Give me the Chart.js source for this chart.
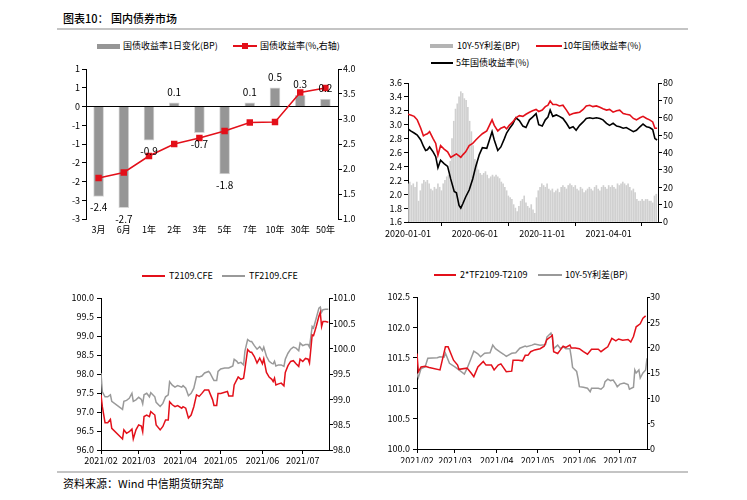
<!DOCTYPE html>
<html><head><meta charset="utf-8">
<script src="https://cdn.jsdelivr.net/npm/chart.js@4.4.0/dist/chart.umd.min.js"></script>
<style>
html,body{margin:0;padding:0;background:#fff;}
body{width:747px;height:500px;position:relative;overflow:hidden;font-family:'Noto Sans CJK SC',sans-serif;}
canvas{position:absolute;}
.t{position:absolute;white-space:nowrap;font-size:9px;line-height:12px;height:12px;color:#000;}
.sw{position:absolute;}
</style></head><body>
<div class="t" style="left:63px;top:10px;font-size:11px;line-height:16px;height:16px;font-weight:500;">图表10： 国内债券市场</div>
<div class="sw" style="left:57px;top:28px;width:631px;height:2px;background:#c4c4c4"></div>

<div class="sw" style="left:97px;top:44px;width:23px;height:5px;background:#969696"></div>
<div class="t" style="left:123px;top:40px;">国债收益率1日变化(BP)</div>
<div class="sw" style="left:233px;top:45px;width:24px;height:2px;background:#e3101a"></div>
<div class="sw" style="left:242px;top:43px;width:6px;height:6px;background:#e3101a"></div>
<div class="t" style="left:260px;top:40px;">国债收益率(%,右轴)</div>

<div class="sw" style="left:430px;top:44px;width:23px;height:4px;background:#b4b4b4"></div>
<div class="t" style="left:457px;top:40px;">10Y-5Y利差(BP)</div>
<div class="sw" style="left:536px;top:45px;width:26px;height:2px;background:#e3101a"></div>
<div class="t" style="left:563px;top:40px;">10年国债收益率(%)</div>
<div class="sw" style="left:431px;top:62px;width:22px;height:2px;background:#000"></div>
<div class="t" style="left:456px;top:57px;">5年国债收益率(%)</div>

<div class="sw" style="left:142px;top:275px;width:23px;height:2px;background:#e3101a"></div>
<div class="t" style="left:169px;top:270px;">T2109.CFE</div>
<div class="sw" style="left:222px;top:275px;width:23px;height:2px;background:#999"></div>
<div class="t" style="left:249px;top:270px;">TF2109.CFE</div>

<div class="sw" style="left:434px;top:274px;width:22px;height:2px;background:#e3101a"></div>
<div class="t" style="left:460px;top:269px;">2*TF2109-T2109</div>
<div class="sw" style="left:538px;top:274px;width:24px;height:2px;background:#999"></div>
<div class="t" style="left:565px;top:269px;">10Y-5Y利差(BP)</div>

<div class="sw" style="left:57px;top:471px;width:631px;height:2px;background:#c4c4c4"></div>
<div class="t" style="left:63px;top:476px;font-size:11px;line-height:14px;height:14px;">资料来源：Wind 中信期货研究部</div>

<canvas id="c1" width="380" height="190" style="left:0px;top:55px"></canvas>
<canvas id="c2" width="372" height="170" style="left:375px;top:75px"></canvas>
<canvas id="c3" width="335" height="185" style="left:40px;top:285px"></canvas>
<canvas id="c4" width="372" height="185" style="left:375px;top:285px"></canvas>
<script>
// ---------- Chart 1 data ----------
const tenors = ['3月','6月','1年','2年','3年','5年','7年','10年','30年','50年'];
const bpChange = [-2.4,-2.7,-0.9,0.1,-0.7,-1.8,0.1,0.5,0.3,0.2];
const yieldRate = [1.82,1.93,2.26,2.50,2.62,2.76,2.93,2.94,3.53,3.62];

// ---------- Chart 2 data (days since 2020-01-01) ----------
const cgbTicks = [0,152,305,456];
const cgbTickLabels = ['2020-01-01','2020-06-01','2020-11-01','2021-04-01'];
const cgbDays = [0,6,14,21,29,35,40,44,49,57,63,68,74,82,90,97,105,110,116,120,125,131,139,147,154,162,169,179,185,191,196,204,211,219,224,230,238,245,253,261,268,276,283,291,297,305,312,318,323,329,337,344,352,360,367,375,382,390,398,405,413,420,428,436,443,451,458,466,474,481,489,496,504,512,519,527,534,542,549,556,561,566];
const cgb10y = [3.15,3.14,3.12,3.07,2.95,2.84,2.86,2.87,2.90,2.80,2.73,2.56,2.70,2.65,2.61,2.53,2.56,2.58,2.55,2.53,2.57,2.61,2.70,2.73,2.78,2.83,2.87,2.91,2.99,3.07,2.99,2.91,2.95,2.97,2.94,2.99,3.04,3.10,3.13,3.12,3.15,3.18,3.20,3.22,3.19,3.21,3.26,3.28,3.34,3.29,3.29,3.27,3.28,3.21,3.14,3.16,3.17,3.18,3.22,3.27,3.28,3.26,3.27,3.25,3.23,3.21,3.22,3.18,3.20,3.21,3.16,3.15,3.14,3.09,3.07,3.10,3.12,3.09,3.07,3.04,2.95,2.95];
const cgb5y = [2.94,2.91,2.88,2.85,2.78,2.69,2.63,2.64,2.68,2.61,2.54,2.38,2.49,2.44,2.40,2.22,2.04,2.02,1.84,1.80,1.87,1.96,2.06,2.22,2.40,2.57,2.67,2.66,2.78,2.90,2.78,2.63,2.68,2.80,2.88,2.94,3.01,3.10,3.06,2.98,2.96,3.07,3.11,3.16,3.00,2.98,3.07,3.11,3.21,3.12,3.14,3.12,3.09,3.02,2.95,2.97,2.92,2.99,3.04,3.09,3.10,3.09,3.10,3.09,3.07,3.02,2.99,3.02,2.98,2.97,2.95,2.96,2.93,2.90,2.92,2.97,3.01,2.97,2.96,2.93,2.80,2.78];
const spreadDays = [0,4,8,12,16,20,24,28,32,36,40,44,48,52,56,60,64,68,72,76,80,84,88,92,96,100,104,108,112,116,120,124,128,132,136,140,144,148,152,156,160,164,168,172,176,180,184,188,192,196,200,204,208,212,216,220,224,228,232,236,240,244,248,252,256,260,264,268,272,276,280,284,288,292,296,300,304,308,312,316,320,324,328,332,336,340,344,348,352,356,360,364,368,372,376,380,384,388,392,396,400,404,408,412,416,420,424,428,432,436,440,444,448,452,456,460,464,468,472,476,480,484,488,492,496,500,504,508,512,516,520,524,528,532,536,540,544,548,552,556,560,564];
const spreadBp = [22,23,21,22,20,23,12,18,22,24,23,24,22,19,18,20,19,22,20,18,22,24,26,27,35,48,58,65,68,72,75,74,71,70,66,58,52,44,36,34,30,28,27,28,29,27,25,26,27,26,27,26,25,23,22,20,18,15,14,13,10,8,6,9,12,13,15,11,9,8,10,7,5,14,18,20,22,21,20,22,19,18,19,17,18,19,17,20,21,20,19,21,22,21,20,21,19,18,20,19,17,18,19,20,19,18,20,21,19,18,20,21,20,19,21,20,21,20,19,22,21,22,23,22,21,22,20,18,19,17,13,12,12,13,12,13,13,12,12,11,15,16];

// ---------- Chart 3 data (days since 2021-02-01) ----------
const monthTicks = [0,28,59,89,120,150];
const monthLabels = ['2021/02','2021/03','2021/04','2021/05','2021/06','2021/07'];
const futDays = [0,1,3,5,7,8,16,17,19,21,23,24,26,28,30,31,32,34,36,37,40,41,44,46,48,50,51,53,55,57,60,61,63,65,67,69,71,73,75,77,80,81,83,84,86,87,89,92,94,95,98,99,101,102,104,106,107,109,111,112,114,116,118,120,121,123,125,127,128,129,130,132,134,136,137,139,141,143,145,147,148,150,152,154,155,157,158,160,162,163,164,165,167,169];
const t2109 = [97.45,97.14,96.72,96.72,96.81,96.57,96.29,96.53,96.44,96.48,96.55,96.29,96.53,96.66,96.63,96.48,96.88,96.92,96.88,97.01,96.92,96.66,96.53,96.62,96.79,96.79,97.27,97.19,97.14,97.17,97.10,97.14,97.10,96.84,96.92,97.14,97.45,97.41,97.49,97.58,97.58,97.49,97.32,97.17,97.17,97.49,97.49,97.52,97.54,97.42,97.42,97.71,97.85,97.92,97.86,97.89,98.13,98.64,98.57,98.57,98.46,98.29,98.42,98.27,98.40,98.04,97.92,97.86,97.80,97.89,97.71,97.74,97.76,97.69,98.04,98.22,98.33,98.35,98.27,98.20,98.39,98.33,98.41,98.39,98.29,99.03,99.01,99.25,99.52,99.62,99.25,99.38,99.38,99.36];
const tf2109 = [99.52,99.15,99.05,99.05,99.09,98.96,98.80,98.96,98.98,99.02,99.12,98.96,98.99,99.04,99.00,98.91,99.09,99.12,99.05,99.13,99.05,98.94,98.86,98.92,99.05,99.09,99.35,99.28,99.24,99.27,99.24,99.27,99.22,99.07,99.12,99.22,99.45,99.44,99.46,99.52,99.55,99.52,99.42,99.37,99.37,99.55,99.60,99.62,99.62,99.62,99.66,99.79,99.75,99.71,99.73,99.68,99.95,100.18,100.14,100.14,100.06,99.99,100.04,99.96,100.03,99.85,99.75,99.71,99.70,99.75,99.66,99.68,99.68,99.65,99.79,99.91,99.99,100.03,100.01,99.96,100.11,100.06,100.08,100.08,100.03,100.44,100.41,100.60,100.80,100.82,100.72,100.77,100.78,100.78];

// ---------- Chart 4 data ----------
const basisDays = [0,1,3,6,9,17,21,23,27,30,31,37,40,42,45,49,51,55,57,60,62,66,70,71,75,78,80,82,84,87,91,94,96,99,100,101,104,106,108,110,113,114,117,120,123,126,129,134,136,139,141,144,147,149,152,156,158,160,162,165,167,169];
const basisVal = [101.57,101.27,101.35,101.36,101.34,101.30,101.68,101.68,101.46,101.38,101.31,101.33,101.25,101.19,101.35,101.44,101.38,101.38,101.30,101.38,101.40,101.27,101.28,101.46,101.46,101.45,101.54,101.54,101.60,101.63,101.65,101.69,101.80,101.85,101.87,101.60,101.57,101.63,101.69,101.67,101.71,101.66,101.66,101.65,101.60,101.56,101.64,101.64,101.60,101.65,101.68,101.82,101.78,101.81,101.79,101.80,101.76,101.85,102.01,102.06,102.15,102.19];
const sprDays = [0,1,3,6,8,15,17,20,21,24,28,31,35,37,40,42,45,47,50,54,56,58,61,64,66,70,73,76,80,81,85,87,91,95,96,99,100,101,104,106,108,110,113,114,115,118,119,120,123,126,128,129,134,136,138,139,141,143,145,147,148,150,153,156,157,160,161,162,164,165,167,169,170];
const sprVal = [14.9,14.1,15.9,16.2,17.9,18.0,18.2,18.1,18.9,16.9,16.2,15.6,14.8,15.9,17.9,19.3,18.8,18.2,18.9,19.0,20.5,19.8,19.2,18.7,18.3,18.9,19.0,19.9,20.3,20.2,20.5,20.7,20.5,20.6,22.1,22.9,22.2,19.8,20.5,19.8,20.2,19.8,19.8,18.2,16.1,15.3,14.0,12.3,12.2,12.0,11.3,12.0,12.0,11.8,12.3,13.3,13.8,13.5,13.6,12.8,12.3,12.8,13.0,12.7,11.8,12.2,15.6,15.0,15.6,14.0,15.0,15.6,17.9];

// ---------- helpers ----------
const RED = '#e3101a';
const FONT = "'Noto Sans CJK SC', sans-serif";
Chart.defaults.font.family = FONT;
Chart.defaults.font.size = 9;
Chart.defaults.color = '#000';
Chart.defaults.animation = false;
Chart.defaults.plugins.legend.display = false;
Chart.defaults.plugins.tooltip.enabled = false;

const pts = (xs, ys) => xs.map((x, i) => ({x: x, y: ys[i]}));
const fx = d => v => v.toFixed(d);

function yAxis(pos, min, max, step, fmt, width, pad, tl) {
  return {
    type: 'linear', position: pos, min: min, max: max,
    ticks: {stepSize: step, callback: fmt, padding: pad, autoSkip: false},
    grid: {drawOnChartArea: false, drawTicks: true, tickLength: tl, tickColor: '#000'},
    border: {display: true, color: '#000', width: 1},
    afterFit(s) { s.width = width; }
  };
}
function xAxis(min, max, ticks, labels, height, pad) {
  return {
    type: 'linear', min: min, max: max, offset: false,
    afterBuildTicks(s) { s.ticks = ticks.map(v => ({value: v})); },
    ticks: {callback: (v, i) => labels[i], padding: pad, maxRotation: 0, autoSkip: false},
    grid: {drawOnChartArea: false, drawTicks: true, tickLength: 4, tickColor: '#000'},
    border: {display: true, color: '#000', width: 1},
    afterFit(s) { s.height = height; }
  };
}
const base = {responsive: false, devicePixelRatio: 1, animation: false};

// ---------- Chart 1 ----------
const barLabels = {
  id: 'barLabels',
  afterDatasetsDraw(chart) {
    const meta = chart.getDatasetMeta(0), ctx = chart.ctx;
    ctx.save();
    ctx.font = '10px ' + FONT; ctx.fillStyle = '#000';
    ctx.textAlign = 'center'; ctx.textBaseline = 'middle';
    meta.data.forEach((el, i) => {
      const v = bpChange[i];
      ctx.fillText(v.toFixed(1), el.x, v >= 0 ? el.y - 11 : el.y + 11);
    });
    ctx.restore();
  }
};
const y1L = yAxis('left', -3, 1, 0.5, v => (v < 0 ? '-' : '') + Math.round(Math.abs(v)), 40, 2, 4);
y1L.grid = {drawOnChartArea: true, drawTicks: true, tickLength: 4, tickColor: '#000',
  color: c => (c.tick && c.tick.value === 0) ? '#000' : 'rgba(0,0,0,0)'};
new Chart(document.getElementById('c1'), {
  type: 'bar',
  data: {labels: tenors, datasets: [
    {type: 'bar', data: bpChange, backgroundColor: '#969696', borderColor: '#d6d6d6', borderWidth: 1, barThickness: 10, yAxisID: 'y', order: 2},
    {type: 'line', data: yieldRate, borderColor: RED, borderWidth: 1.5, pointStyle: 'rect', pointRadius: 3.5,
     pointBackgroundColor: RED, pointBorderColor: RED, yAxisID: 'y1', order: 1}
  ]},
  options: Object.assign({}, base, {
    layout: {padding: {left: 46, right: 2, top: 14, bottom: 6}},
    scales: {
      x: {type: 'category', grid: {display: false, drawTicks: false}, border: {display: false},
          ticks: {padding: 5, maxRotation: 0, autoSkip: false}, afterFit(s) { s.height = 20; }},
      y: y1L,
      y1: yAxis('right', 1, 4, 0.5, fx(1), 40, 1, 4)
    }
  }),
  plugins: [barLabels]
});

// ---------- Chart 2 ----------
new Chart(document.getElementById('c2'), {
  type: 'bar',
  data: {datasets: [
    {type: 'line', data: pts(cgbDays, cgb10y), borderColor: RED, borderWidth: 1.6, pointRadius: 0, yAxisID: 'y', order: 1},
    {type: 'line', data: pts(cgbDays, cgb5y), borderColor: '#000', borderWidth: 1.6, pointRadius: 0, yAxisID: 'y', order: 2},
    {type: 'bar', data: pts(spreadDays, spreadBp), backgroundColor: '#d0d0d0', barThickness: 1, yAxisID: 'y1', order: 3}
  ]},
  options: Object.assign({}, base, {
    layout: {padding: {left: 3, right: 59, top: 8, bottom: 7}},
    scales: {
      x: xAxis(0, 568, cgbTicks, cgbTickLabels, 16, 2),
      y: yAxis('left', 1.6, 3.6, 0.2, fx(1), 30, 2, 4),
      y1: yAxis('right', 0, 80, 10, fx(0), 30, 1, 4)
    }
  })
});

// ---------- Chart 3 ----------
new Chart(document.getElementById('c3'), {
  type: 'line',
  data: {datasets: [
    {data: pts(futDays, t2109), borderColor: RED, borderWidth: 1.5, pointRadius: 0, yAxisID: 'y', order: 1},
    {data: pts(futDays, tf2109), borderColor: '#9a9a9a', borderWidth: 1.5, pointRadius: 0, yAxisID: 'y1', order: 2}
  ]},
  options: Object.assign({}, base, {
    layout: {padding: {left: 21, right: 10, top: 13, bottom: 6}},
    scales: {
      x: xAxis(0, 169.5, monthTicks, monthLabels, 14, 1),
      y: yAxis('left', 96, 100, 0.5, fx(1), 40, 3, 4),
      y1: yAxis('right', 98, 101, 0.5, fx(1), 36, 0, 4)
    }
  })
});

// ---------- Chart 4 ----------
new Chart(document.getElementById('c4'), {
  type: 'line',
  data: {datasets: [
    {data: pts(basisDays, basisVal), borderColor: RED, borderWidth: 1.5, pointRadius: 0, yAxisID: 'y', order: 1},
    {data: pts(sprDays, sprVal), borderColor: '#9a9a9a', borderWidth: 1.5, pointRadius: 0, yAxisID: 'y1', order: 2}
  ]},
  options: Object.assign({}, base, {
    layout: {padding: {left: 4, right: 70, top: 12, bottom: 7}},
    scales: {
      x: xAxis(0, 170, monthTicks, monthLabels, 14, 2),
      y: yAxis('left', 100, 102.5, 0.5, fx(1), 38, 3, 4),
      y1: yAxis('right', 0, 30, 5, fx(0), 30, 0, 3)
    }
  })
});
</script>
</body></html>
